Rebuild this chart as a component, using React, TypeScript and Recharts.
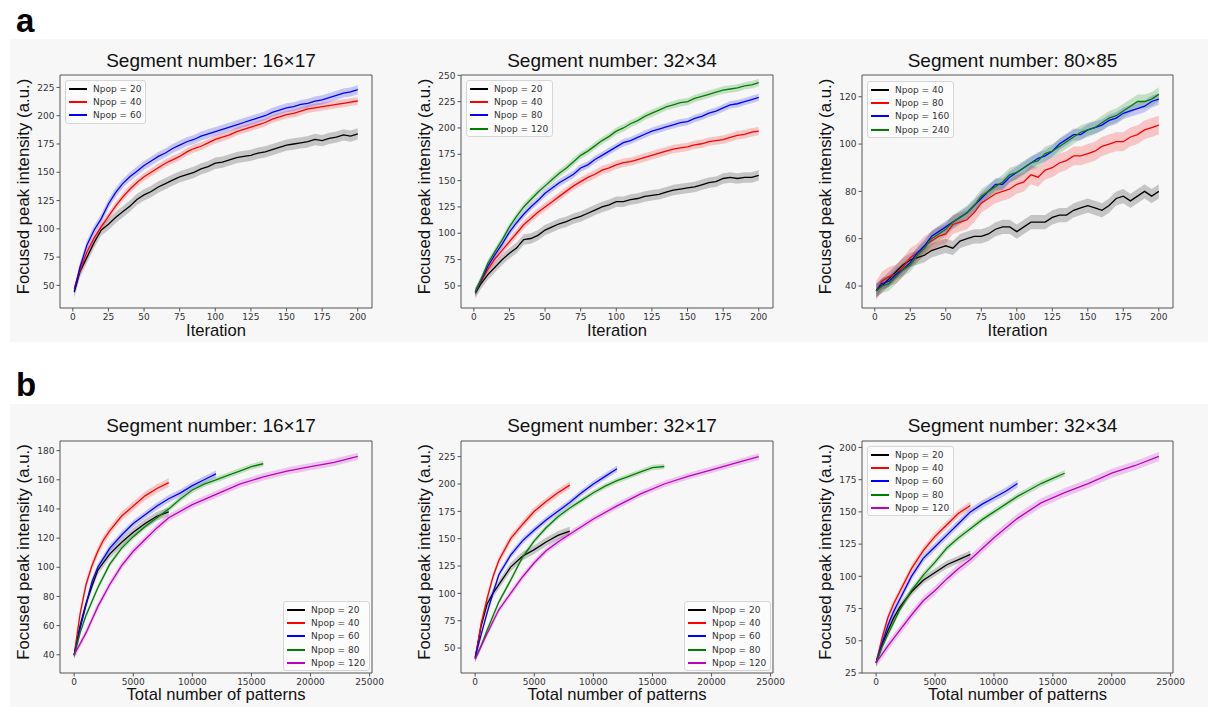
import React from 'react';
import { ComposedChart, Line, Area, XAxis, YAxis, ReferenceArea } from 'recharts';

// ---- shared x values ----
const ITER = [1, 5, 10, 15, 20, 25, 30, 35, 40, 45, 50, 55, 60, 65, 70, 75, 80, 85, 90, 95, 100, 105, 110, 115, 120, 125, 130, 135, 140, 145, 150, 155, 160, 165, 170, 175, 180, 185, 190, 195, 200];
const ITER_TICKS = [0, 25, 50, 75, 100, 125, 150, 175, 200];
const PAT_TICKS = [0, 5000, 10000, 15000, 20000, 25000];

// ---- a: Segment number 16x17 ----
const A1_N20 = [44, 62, 75, 88, 99, 104, 110, 115, 120, 126, 130, 133, 137, 140, 143, 146, 148, 150, 153, 155, 158, 159, 161, 163, 164, 165, 167, 168, 170, 172, 174, 175, 176, 177, 179, 178, 180, 181, 183, 182, 184];
const A1_N40 = [47, 63, 80, 92, 102, 111, 120, 128, 135, 141, 146, 150, 154, 158, 161, 164, 168, 171, 173, 176, 179, 181, 183, 186, 188, 190, 192, 194, 197, 199, 201, 202, 204, 206, 207, 208, 209, 210, 211, 212, 213];
const A1_N60 = [45, 66, 86, 99, 109, 122, 132, 140, 146, 151, 156, 160, 164, 167, 171, 174, 177, 179, 182, 184, 186, 188, 190, 192, 194, 196, 198, 200, 203, 205, 207, 208, 210, 211, 213, 214, 216, 218, 220, 221, 223];

// ---- a: Segment number 32x34 ----
const A2_N20 = [43, 52, 61, 68, 75, 81, 86, 94, 95, 98, 103, 106, 109, 111, 114, 116, 119, 122, 125, 127, 130, 130, 132, 133, 135, 136, 137, 139, 141, 142, 143, 144, 146, 148, 149, 152, 153, 152, 153, 153, 155];
const A2_N40 = [44, 54, 66, 76, 84, 92, 100, 108, 114, 120, 125, 130, 135, 140, 145, 149, 153, 156, 160, 162, 165, 167, 168, 170, 172, 174, 176, 178, 180, 181, 182, 184, 185, 187, 188, 189, 191, 193, 194, 196, 197];
const A2_N80 = [44, 55, 69, 80, 90, 101, 110, 118, 125, 131, 138, 143, 148, 152, 156, 162, 165, 170, 174, 178, 182, 186, 188, 191, 194, 197, 199, 201, 203, 205, 206, 209, 211, 214, 216, 219, 222, 223, 225, 227, 229];
const A2_N120 = [44, 56, 72, 83, 94, 106, 116, 125, 132, 139, 145, 151, 157, 162, 168, 174, 178, 183, 188, 192, 197, 200, 204, 207, 211, 214, 217, 220, 222, 224, 225, 228, 230, 232, 234, 236, 237, 238, 240, 241, 243];

// ---- a: Segment number 80x85 ----
const A3_N40 = [38, 40, 43, 46, 49, 51, 52, 53, 55, 56, 57, 56, 59, 60, 61, 61, 62, 64, 65, 65, 63, 65, 67, 67, 67, 69, 70, 70, 72, 73, 74, 73, 72, 74, 77, 78, 76, 78, 80, 78, 80];
const A3_N80 = [38, 42, 44, 45, 48, 52, 54, 57, 59, 61, 62, 66, 67, 68, 71, 75, 77, 79, 80, 81, 83, 84, 87, 86, 89, 90, 92, 93, 95, 95, 96, 97, 99, 100, 101, 101, 103, 104, 106, 107, 108];
const A3_N160 = [38, 41, 42, 45, 47, 50, 54, 57, 61, 63, 65, 67, 69, 71, 74, 77, 80, 83, 83, 86, 88, 90, 92, 94, 95, 97, 100, 102, 104, 104, 106, 107, 108, 110, 111, 113, 114, 115, 116, 118, 119];
const A3_N240 = [38, 40, 41, 44, 47, 49, 53, 56, 60, 62, 64, 67, 69, 71, 74, 78, 80, 82, 84, 87, 88, 90, 92, 93, 96, 97, 99, 101, 103, 105, 106, 107, 109, 111, 112, 114, 116, 118, 118, 119, 121];

// ---- b: total number of patterns per series ----
const PX_8K_A = [0, 500, 1000, 1500, 2000, 3000, 4000, 5000, 6000, 7000, 8000];
const PX_8K_B = [0, 500, 1000, 1500, 2000, 2500, 3000, 4000, 5000, 6000, 7000, 8000];
const PX_12K = [0, 500, 1000, 1500, 2000, 3000, 4000, 5000, 6000, 7000, 8000, 9000, 10000, 11000, 12000];
const PX_16K = [0, 500, 1000, 2000, 3000, 4000, 5000, 6000, 7000, 8000, 9000, 10000, 11000, 12000, 13000, 14000, 15000, 16000];
const PX_24K = [0, 1000, 2000, 3000, 4000, 5000, 6000, 7000, 8000, 10000, 12000, 14000, 16000, 18000, 20000, 22000, 24000];

// ---- b: Segment number 16x17 ----
const B1_N20 = [40, 60, 75, 87, 98, 109, 117, 124, 130, 135, 138];
const B1_N40 = [40, 68, 88, 101, 111, 119, 125, 135, 142, 149, 154, 158];
const B1_N60 = [40, 58, 74, 90, 100, 113, 122, 130, 136, 142, 147, 151, 156, 160, 164];
const B1_N80 = [39, 55, 67, 86, 102, 113, 121, 128, 134, 140, 147, 153, 157, 160, 163, 166, 169, 171];
const B1_N120 = [40, 55, 73, 88, 101, 111, 119, 127, 134, 143, 150, 157, 162, 166, 169, 172, 176];

// ---- b: Segment number 32x17 ----
const B2_N20 = [41, 70, 90, 100, 108, 124, 134, 140, 147, 153, 157];
const B2_N40 = [40, 72, 95, 115, 130, 150, 163, 175, 184, 192, 199];
const B2_N60 = [42, 62, 82, 100, 117, 135, 148, 158, 167, 175, 183, 192, 200, 207, 214];
const B2_N80 = [40, 52, 66, 92, 112, 133, 148, 160, 170, 178, 185, 192, 198, 203, 207, 211, 215, 216];
const B2_N120 = [40, 63, 85, 100, 115, 128, 139, 147, 154, 168, 180, 191, 200, 207, 213, 219, 225];

// ---- b: Segment number 32x34 ----
const B3_N20 = [33, 47, 58, 68, 76, 88, 97, 103, 109, 113, 117];
const B3_N40 = [33, 52, 68, 79, 88, 106, 120, 131, 140, 149, 155];
const B3_N60 = [33, 48, 62, 73, 82, 100, 114, 123, 132, 141, 150, 156, 161, 166, 172];
const B3_N80 = [33, 45, 55, 74, 89, 101, 111, 122, 130, 137, 144, 150, 156, 162, 167, 172, 176, 180];
const B3_N120 = [33, 46, 58, 70, 81, 89, 98, 106, 113, 130, 145, 157, 165, 172, 180, 186, 193];

const BLACK = '#000000';
const RED = '#ff0000';
const BLUE = '#0000ff';
const GREEN = '#008000';
const MAGENTA = '#bf00bf';
const SPINE = '#555555';
const BG = '#f7f7f7';
const SANS = '"Liberation Sans", Arial, sans-serif';
const TICK_FONT = '"DejaVu Sans", sans-serif';

type Series = { name: string; color: string; xs: number[]; ys: number[]; spread: number };
type Box = { L: number; R: number; T: number; B: number };
type PanelCfg = {
  title: string;
  xLabel: string;
  box: Box;
  xDomain: [number, number];
  xTicks: number[];
  yDomain: [number, number];
  yTicks: number[];
  series: Series[];
  legend: { x: number; y: number };
};

const TOP_X: [number, number] = [-9, 210];
const BOT_X: [number, number] = [-1200, 25200];

const panels: PanelCfg[] = [
  {
    title: 'Segment number: 16×17', xLabel: 'Iteration',
    box: { L: 60, R: 372, T: 75, B: 308 }, xDomain: TOP_X, xTicks: ITER_TICKS,
    yDomain: [30, 236], yTicks: [50, 75, 100, 125, 150, 175, 200, 225],
    series: [
      { name: 'Npop = 20', color: BLACK, xs: ITER, ys: A1_N20, spread: 5 },
      { name: 'Npop = 40', color: RED, xs: ITER, ys: A1_N40, spread: 3.5 },
      { name: 'Npop = 60', color: BLUE, xs: ITER, ys: A1_N60, spread: 4 },
    ],
    legend: { x: 65, y: 80 },
  },
  {
    title: 'Segment number: 32×34', xLabel: 'Iteration',
    box: { L: 461, R: 773, T: 75, B: 308 }, xDomain: TOP_X, xTicks: ITER_TICKS,
    yDomain: [29, 250.3], yTicks: [50, 75, 100, 125, 150, 175, 200, 225, 250],
    series: [
      { name: 'Npop = 20', color: BLACK, xs: ITER, ys: A2_N20, spread: 5 },
      { name: 'Npop = 40', color: RED, xs: ITER, ys: A2_N40, spread: 4 },
      { name: 'Npop = 80', color: BLUE, xs: ITER, ys: A2_N80, spread: 3.5 },
      { name: 'Npop = 120', color: GREEN, xs: ITER, ys: A2_N120, spread: 3.5 },
    ],
    legend: { x: 466, y: 80 },
  },
  {
    title: 'Segment number: 80×85', xLabel: 'Iteration',
    box: { L: 862, R: 1173, T: 75, B: 308 }, xDomain: TOP_X, xTicks: ITER_TICKS,
    yDomain: [30.7, 129.2], yTicks: [40, 60, 80, 100, 120],
    series: [
      { name: 'Npop = 40', color: BLACK, xs: ITER, ys: A3_N40, spread: 3 },
      { name: 'Npop = 80', color: RED, xs: ITER, ys: A3_N80, spread: 4 },
      { name: 'Npop = 160', color: BLUE, xs: ITER, ys: A3_N160, spread: 2.5 },
      { name: 'Npop = 240', color: GREEN, xs: ITER, ys: A3_N240, spread: 3 },
    ],
    legend: { x: 867, y: 81 },
  },
  {
    title: 'Segment number: 16×17', xLabel: 'Total number of patterns',
    box: { L: 60, R: 372, T: 441, B: 673 }, xDomain: BOT_X, xTicks: PAT_TICKS,
    yDomain: [27.5, 186.6], yTicks: [40, 60, 80, 100, 120, 140, 160, 180],
    series: [
      { name: 'Npop = 20', color: BLACK, xs: PX_8K_A, ys: B1_N20, spread: 3 },
      { name: 'Npop = 40', color: RED, xs: PX_8K_B, ys: B1_N40, spread: 3 },
      { name: 'Npop = 60', color: BLUE, xs: PX_12K, ys: B1_N60, spread: 2.5 },
      { name: 'Npop = 80', color: GREEN, xs: PX_16K, ys: B1_N80, spread: 2 },
      { name: 'Npop = 120', color: MAGENTA, xs: PX_24K, ys: B1_N120, spread: 2.5 },
    ],
    legend: { x: 283, y: 601 },
  },
  {
    title: 'Segment number: 32×17', xLabel: 'Total number of patterns',
    box: { L: 461, R: 773, T: 441, B: 673 }, xDomain: BOT_X, xTicks: PAT_TICKS,
    yDomain: [27.2, 239.3], yTicks: [50, 75, 100, 125, 150, 175, 200, 225],
    series: [
      { name: 'Npop = 20', color: BLACK, xs: PX_8K_A, ys: B2_N20, spread: 4 },
      { name: 'Npop = 40', color: RED, xs: PX_8K_A, ys: B2_N40, spread: 3.5 },
      { name: 'Npop = 60', color: BLUE, xs: PX_12K, ys: B2_N60, spread: 3 },
      { name: 'Npop = 80', color: GREEN, xs: PX_16K, ys: B2_N80, spread: 2.5 },
      { name: 'Npop = 120', color: MAGENTA, xs: PX_24K, ys: B2_N120, spread: 3 },
    ],
    legend: { x: 684, y: 601 },
  },
  {
    title: 'Segment number: 32×34', xLabel: 'Total number of patterns',
    box: { L: 862, R: 1173, T: 441, B: 673 }, xDomain: BOT_X, xTicks: PAT_TICKS,
    yDomain: [25, 205], yTicks: [25, 50, 75, 100, 125, 150, 175, 200],
    series: [
      { name: 'Npop = 20', color: BLACK, xs: PX_8K_A, ys: B3_N20, spread: 3 },
      { name: 'Npop = 40', color: RED, xs: PX_8K_A, ys: B3_N40, spread: 3 },
      { name: 'Npop = 60', color: BLUE, xs: PX_12K, ys: B3_N60, spread: 3 },
      { name: 'Npop = 80', color: GREEN, xs: PX_16K, ys: B3_N80, spread: 2.5 },
      { name: 'Npop = 120', color: MAGENTA, xs: PX_24K, ys: B3_N120, spread: 3.5 },
    ],
    legend: { x: 867, y: 446 },
  },
];

const toPoints = (s: Series) =>
  s.xs.map((x, i) => ({ x, y: s.ys[i], band: [s.ys[i] - s.spread, s.ys[i] + s.spread] }));

const Y_AXIS_W = 40;
const X_AXIS_H = 22;
const M_TOP = 4;
const M_RIGHT = 22;

const tickStyle = { fontSize: 9, fill: '#333', fontFamily: TICK_FONT };

const LegendBox: React.FC<{ series: Series[]; left: number; top: number }> = ({ series, left, top }) => (
  <div
    style={{
      position: 'absolute', left, top,
      padding: '1px 4px 1px 3px',
      background: 'rgba(255,255,255,0.6)',
      border: '1px solid #d6d6d6', borderRadius: 3,
      fontFamily: TICK_FONT, fontSize: 9, color: '#333',
    }}
  >
    {series.map((s) => (
      <div key={s.name} style={{ display: 'flex', alignItems: 'center', height: 13.3, whiteSpace: 'nowrap' }}>
        <span style={{ display: 'inline-block', width: 18, height: 2, background: s.color, marginRight: 6 }} />
        {s.name}
      </div>
    ))}
  </div>
);

const Panel: React.FC<{ p: PanelCfg }> = ({ p }) => {
  const { L, R, T, B } = p.box;
  const w = R - L + Y_AXIS_W + M_RIGHT;
  const h = B - T + M_TOP + X_AXIS_H;
  const ox = L - Y_AXIS_W;
  const oy = T - M_TOP;
  return (
    <div style={{ position: 'absolute', left: ox, top: oy, width: w, height: h }}>
      <ComposedChart width={w} height={h} margin={{ top: M_TOP, right: M_RIGHT, left: 0, bottom: 0 }}>
        <XAxis
          type="number" dataKey="x" domain={p.xDomain} ticks={p.xTicks} allowDataOverflow
          height={X_AXIS_H} axisLine={false} tickSize={3.5} tickMargin={2} interval={0}
          tick={tickStyle} tickLine={{ stroke: SPINE }}
        />
        <YAxis
          type="number" domain={p.yDomain} ticks={p.yTicks} allowDataOverflow
          width={Y_AXIS_W} axisLine={false} tickSize={3.5} tickMargin={2} interval={0}
          tick={tickStyle} tickLine={{ stroke: SPINE }}
        />
        {p.series.map((s) => (
          <Area
            key={'band-' + s.name} data={toPoints(s)} dataKey="band" type="linear"
            stroke="none" fill={s.color} fillOpacity={0.2} isAnimationActive={false}
          />
        ))}
        {p.series.map((s) => (
          <Line
            key={'line-' + s.name} data={toPoints(s)} dataKey="y" type="linear"
            stroke={s.color} strokeWidth={1.3} dot={false} activeDot={false} isAnimationActive={false}
          />
        ))}
        <ReferenceArea
          x1={p.xDomain[0]} x2={p.xDomain[1]} y1={p.yDomain[0]} y2={p.yDomain[1]}
          fill="none" stroke={SPINE} strokeWidth={1} ifOverflow="visible"
        />
      </ComposedChart>
      <LegendBox series={p.series} left={p.legend.x - ox} top={p.legend.y - oy} />
    </div>
  );
};

export default function App() {
  return (
    <div style={{ position: 'absolute', left: 0, top: 0, width: 1208, height: 707, background: '#fff', overflow: 'hidden' }}>
      <div style={{ position: 'absolute', left: 10, top: 39, width: 1198, height: 303, background: BG }} />
      <div style={{ position: 'absolute', left: 10, top: 404, width: 1198, height: 303, background: BG }} />
      {panels.map((p, i) => (
        <Panel key={i} p={p} />
      ))}
      <svg width={1208} height={707} style={{ position: 'absolute', left: 0, top: 0, pointerEvents: 'none' }}>
        <text x={16} y={31.5} fontFamily={SANS} fontWeight="bold" fontSize={33} fill="#000">a</text>
        <text x={16} y={396} fontFamily={SANS} fontWeight="bold" fontSize={33} fill="#000">b</text>
        {panels.map((p, i) => {
          const { L, R, T, B } = p.box;
          const cx = (L + R) / 2;
          const cy = (T + B) / 2 - 5;
          const top = T < 200;
          return (
            <g key={i} fontFamily={SANS} fill="#111">
              <text x={cx - 5} y={top ? 66.7 : 431.5} fontSize={19} textAnchor="middle">{p.title}</text>
              <text x={cx} y={top ? 336 : 700} fontSize={16.6} textAnchor="middle">{p.xLabel}</text>
              <text
                x={L - 31.5} y={cy} fontSize={16.8} textAnchor="middle"
                transform={`rotate(-90 ${L - 31.5} ${cy})`}
              >
                Focused peak intensity (a.u.)
              </text>
            </g>
          );
        })}
      </svg>
    </div>
  );
}
